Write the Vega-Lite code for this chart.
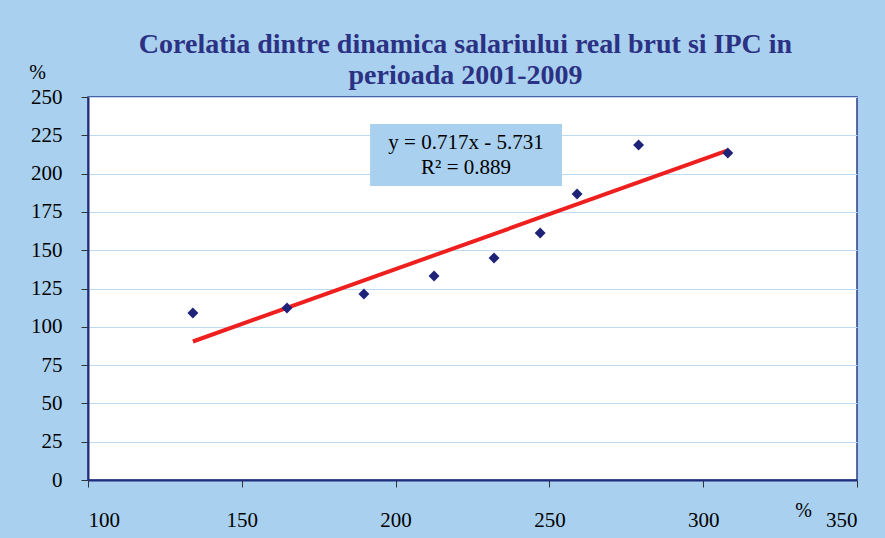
{
  "$schema": "https://vega.github.io/schema/vega-lite/v6.json",
  "width": 769,
  "height": 383,
  "autosize": {"type": "none"},
  "padding": {"left": 88, "top": 97, "right": 28, "bottom": 58},
  "background": "#A9D0EE",
  "title": {
    "text": ["Corelatia dintre dinamica salariului real brut si IPC in", "perioada 2001-2009"],
    "font": "Liberation Serif, Times New Roman, DejaVu Serif, serif",
    "fontSize": 28,
    "fontWeight": "bold",
    "color": "#2B3183",
    "anchor": "middle",
    "lineHeight": 31,
    "offset": 10,
    "dx": -7,
    "dy": 38
  },
  "config": {
    "view": {"stroke": "#2E3A8C", "strokeWidth": 1.5, "fill": "white"},
    "axis": {
      "labelFont": "Liberation Serif, Times New Roman, DejaVu Serif, serif",
      "labelFontSize": 21,
      "labelColor": "black",
      "labelOverlap": false,
      "titleFont": "Liberation Serif, Times New Roman, DejaVu Serif, serif",
      "titleFontSize": 20,
      "titleFontWeight": "normal",
      "titleColor": "black",
      "domainColor": "#1F2D7B",
      "domainWidth": 2,
      "tickColor": "#333333",
      "tickSize": 7,
      "tickWidth": 1
    }
  },
  "datasets": {
    "points": [
      {"ipc": 134.1, "salariu": 109.0},
      {"ipc": 164.7, "salariu": 112.3},
      {"ipc": 189.7, "salariu": 121.4},
      {"ipc": 212.5, "salariu": 133.2},
      {"ipc": 232.0, "salariu": 144.9},
      {"ipc": 247.0, "salariu": 161.2},
      {"ipc": 259.0, "salariu": 186.7},
      {"ipc": 279.0, "salariu": 218.7},
      {"ipc": 308.0, "salariu": 213.4}
    ],
    "trend": [
      {"ipc": 134.1, "salariu": 90.4},
      {"ipc": 308.0, "salariu": 215.1}
    ],
    "box": [
      {"ipc": 191.7, "ipc2": 254.1, "salariu": 191.9, "salariu2": 232.4}
    ],
    "label": [
      {"ipc": 222.9, "salariu": 220.0, "text": "y = 0.717x - 5.731"},
      {"ipc": 222.9, "salariu": 203.5, "text": "R² = 0.889"}
    ]
  },
  "encoding": {
    "x": {
      "field": "ipc", "type": "quantitative",
      "scale": {"domain": [100, 350], "nice": false, "zero": false},
      "axis": {
        "values": {"expr": "[100, 150, 200, 250, 300, 350]"},
        "grid": false,
        "labelOverlap": false,
        "labelPadding": 22,
        "title": "%",
        "titleX": 715,
        "titleY": 30,
        "titleAngle": 0,
        "titleBaseline": "middle",
        "titleAlign": "center"
      }
    },
    "y": {
      "field": "salariu", "type": "quantitative",
      "scale": {"domain": [0, 250], "nice": false, "zero": true},
      "axis": {
        "values": {"expr": "[0, 25, 50, 75, 100, 125, 150, 175, 200, 225, 250]"},
        "grid": true,
        "gridColor": "#BCDAF2",
        "gridWidth": 1,
        "labelOverlap": false,
        "labelSeparation": 0,
        "labelPadding": 19,
        "title": "%",
        "titleAngle": 0,
        "titleX": -51,
        "titleY": -25,
        "titleAlign": "center",
        "titleBaseline": "middle"
      }
    }
  },
  "layer": [
    {
      "data": {"name": "box"},
      "mark": {"type": "rect", "color": "#A9D1EF"},
      "encoding": {
        "x2": {"field": "ipc2"},
        "y2": {"field": "salariu2"}
      }
    },
    {
      "data": {"name": "label"},
      "mark": {"type": "text", "font": "Liberation Serif, Times New Roman, DejaVu Serif, serif", "fontSize": 21, "color": "black", "align": "center", "baseline": "middle"},
      "encoding": {
        "text": {"field": "text"}
      }
    },
    {
      "data": {"name": "trend"},
      "mark": {"type": "line", "color": "#EE1F1F", "strokeWidth": 4},
      "encoding": {}
    },
    {
      "data": {"name": "points"},
      "mark": {"type": "point", "shape": "diamond", "filled": true, "color": "#1F2378", "size": 120, "opacity": 1},
      "encoding": {}
    }
  ]
}
